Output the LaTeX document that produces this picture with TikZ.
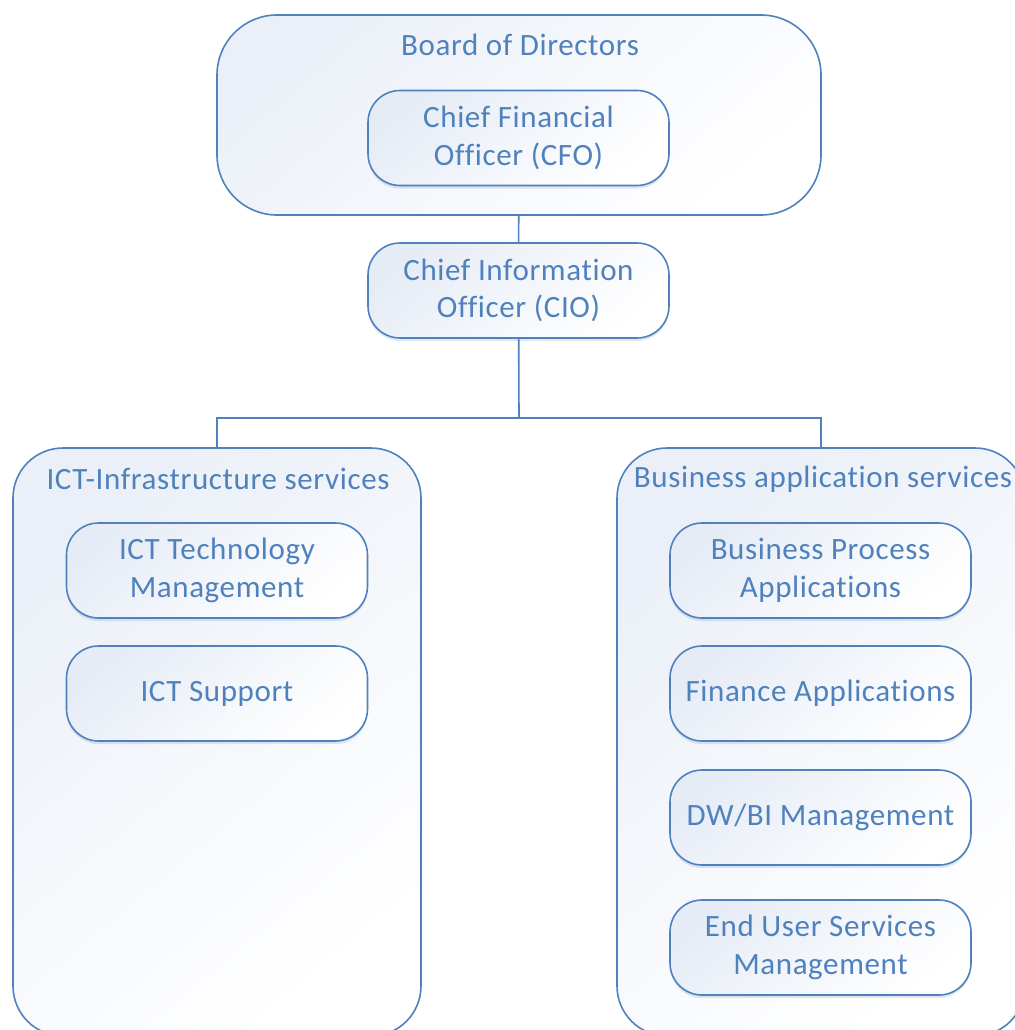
\documentclass[tikz,border=0pt]{standalone}
\usepackage{fontspec}
\setmainfont{Carlito}[LetterSpace=2, Ligatures={NoCommon}]
\usetikzlibrary{shadows}
\definecolor{orgblue}{RGB}{79, 129, 189}
\definecolor{orgfill}{RGB}{230, 236, 246}

\tikzset{
  unit/.style={draw=orgblue, line width=1.6pt, rounded corners=32pt,
    top color=orgfill, bottom color=white, shading angle=40,
    minimum width=301pt, minimum height=95pt, align=center,
    text=orgblue, font=\fontsize{31}{37.5}\selectfont, inner sep=0pt,
    drop shadow={shadow xshift=0pt, shadow yshift=-3pt,
    fill=orgblue, opacity=0.18}},
  group/.style={draw=orgblue, line width=1.6pt, rounded corners=50pt,
    top color=orgfill!80, bottom color=white, shading angle=40,
    inner sep=0pt},
  title/.style={text=orgblue, font=\fontsize{31}{37.5}\selectfont, inner sep=0pt},
  link/.style={draw=orgblue, line width=1.6pt}
}

\begin{document}
\begin{tikzpicture}[x=1pt, y=-1pt]
  \useasboundingbox (0,0) rectangle (1014,1030);
  % top level
  \node[group, minimum width=604pt, minimum height=200pt, rounded corners=60pt] (board) at (519,115) {};
  \node[title] (boardtitle) at (520,45) {Board of Directors};
  \node[unit] (cfo) at (518.5,138) {Chief Financial\\Officer (CFO)};
  \node[unit] (cio) at (518.5,290.5) {Chief Information\\Officer (CIO)};
  % the two service groups
  \node[group, minimum width=408pt, minimum height=588pt] (infra) at (217,742) {};
  \node[title] (infratitle) at (218,479) {ICT-Infrastructure services};
  \node[group, minimum width=408pt, minimum height=588pt] (bizapp) at (821,742) {};
  \node[title] (bizapptitle) at (823,479) {Business application services};
  % ICT-Infrastructure units
  \node[unit] (tech) at (217,570.5) {ICT Technology\\Management};
  \node[unit] (support) at (217,693.5) {ICT Support};
  % business application units
  \node[unit] (bpa) at (820.5,570.5) {Business Process\\Applications};
  \node[unit] (finance) at (820.5,693.5) {Finance Applications};
  \node[unit] (dwbi) at (820.5,817.5) {DW/BI Management};
  \node[unit] (enduser) at (820.5,947.5) {End User Services\\Management};
  % connectors
  \coordinate (split) at (519,418);
  \draw[link] (board) -- (cio);
  \draw[link] (cio) -- (split) -| (infra);
  \draw[link] (split) -| (bizapp);
\end{tikzpicture}
\end{document}
